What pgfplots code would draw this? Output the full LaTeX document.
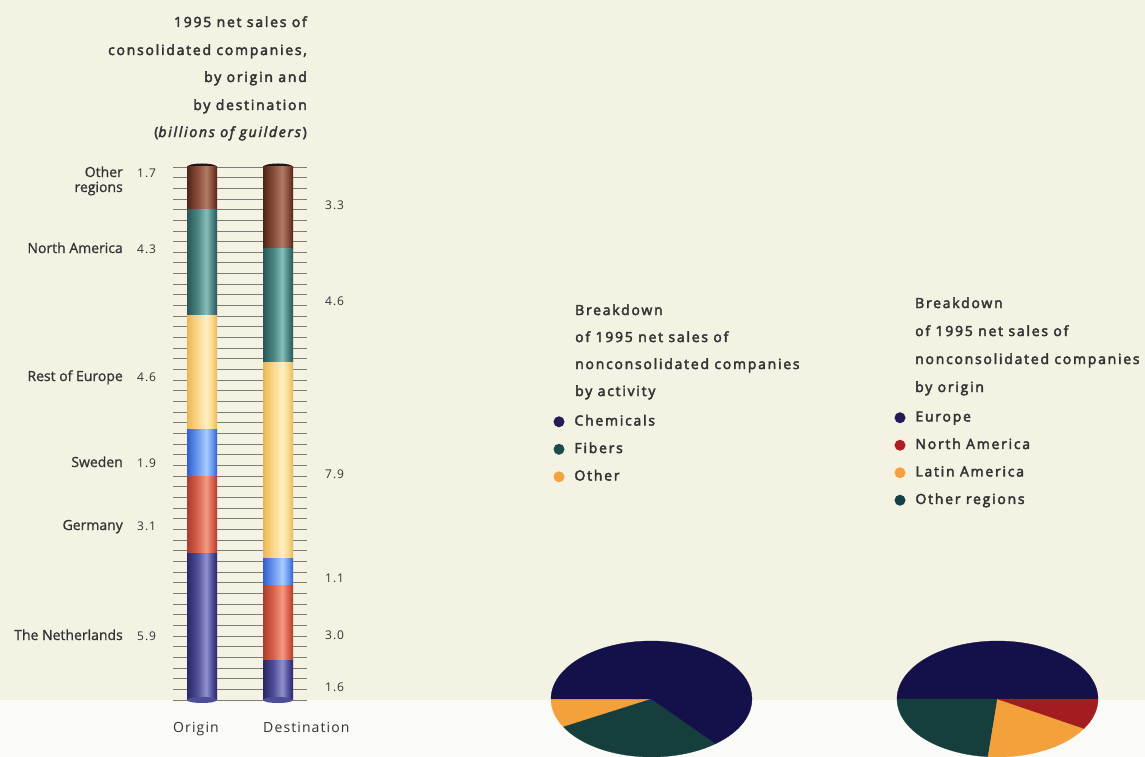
\documentclass[border=0pt]{standalone}
\usepackage{pgfplots}
\pgfplotsset{compat=1.18}
\usepackage{fontspec}
\setmainfont{Open Sans}
\newfontfamily\lab[FakeBold=1]{Open Sans}
\newfontfamily\trk[LetterSpace=8]{Open Sans}
\newfontfamily\trkb[LetterSpace=12.5,FakeBold=3]{Open Sans}

\definecolor{bgcream}{HTML}{F4F2E3}
\definecolor{bgwhite}{HTML}{FAFAF6}
\definecolor{txt}{HTML}{333333}
\definecolor{ladder}{HTML}{7E7C74}
% bar colours (dark edge / mid / highlight)
\definecolor{oD}{HTML}{4E241A}\definecolor{oM}{HTML}{8A4C3A}\definecolor{oL}{HTML}{B07A64}
\definecolor{aD}{HTML}{2A5656}\definecolor{aM}{HTML}{4A8482}\definecolor{aL}{HTML}{86BEBB}
\definecolor{eD}{HTML}{ECB656}\definecolor{eM}{HTML}{FAD889}\definecolor{eL}{HTML}{FFF0C4}
\definecolor{sD}{HTML}{3160CC}\definecolor{sM}{HTML}{6898F0}\definecolor{sL}{HTML}{A8CCFF}
\definecolor{gD}{HTML}{AC3C2C}\definecolor{gM}{HTML}{D9614C}\definecolor{gL}{HTML}{F29A82}
\definecolor{nD}{HTML}{292766}\definecolor{nM}{HTML}{4E4E98}\definecolor{nL}{HTML}{9090D0}
\definecolor{capc}{HTML}{1E1410}
% pie colours
\definecolor{pNavy}{HTML}{14114A}
\definecolor{pTeal}{HTML}{163E3D}
\definecolor{pOrange}{HTML}{F3A13A}
\definecolor{pRed}{HTML}{A31C20}
\definecolor{bNavy}{HTML}{261A58}
\definecolor{bTeal}{HTML}{1D4A4A}
\definecolor{bOrange}{HTML}{F5A142}
\definecolor{bRed}{HTML}{B01C24}
\definecolor{bTeal2}{HTML}{15404A}

\pgfdeclarehorizontalshading{cylO}{100bp}{color(0bp)=(oD); color(25bp)=(oD); color(42bp)=(oM); color(57bp)=(oL); color(67bp)=(oM); color(75bp)=(oD); color(100bp)=(oD)}
\pgfdeclarehorizontalshading{cylA}{100bp}{color(0bp)=(aD); color(25bp)=(aD); color(42bp)=(aM); color(57bp)=(aL); color(67bp)=(aM); color(75bp)=(aD); color(100bp)=(aD)}
\pgfdeclarehorizontalshading{cylE}{100bp}{color(0bp)=(eD); color(25bp)=(eD); color(42bp)=(eM); color(57bp)=(eL); color(67bp)=(eM); color(75bp)=(eD); color(100bp)=(eD)}
\pgfdeclarehorizontalshading{cylS}{100bp}{color(0bp)=(sD); color(25bp)=(sD); color(42bp)=(sM); color(57bp)=(sL); color(67bp)=(sM); color(75bp)=(sD); color(100bp)=(sD)}
\pgfdeclarehorizontalshading{cylG}{100bp}{color(0bp)=(gD); color(25bp)=(gD); color(42bp)=(gM); color(57bp)=(gL); color(67bp)=(gM); color(75bp)=(gD); color(100bp)=(gD)}
\pgfdeclarehorizontalshading{cylN}{100bp}{color(0bp)=(nD); color(25bp)=(nD); color(42bp)=(nM); color(57bp)=(nL); color(67bp)=(nM); color(75bp)=(nD); color(100bp)=(nD)}

% pie slice: #1 start angle, #2 cumulative % before, #3 value %, #4 colour
\newcommand{\slice}[4]{%
  \filldraw[#4, line width=0.3pt] (axis cs:0,0) -- (axis cs:{cos(#1+3.6*#2)},{sin(#1+3.6*#2)})
    arc[start angle={#1+3.6*#2}, end angle={#1+3.6*(#2+#3)}, x radius=100.5pt, y radius=58pt] -- cycle;}

\pgfplotsset{
  ladderaxis/.style={
    scale only axis, width=67pt, height=533pt,
    ymin=0, ymax=21.5, ybar stacked, bar width=30pt,
    ytick={0,0.43,...,21.6}, yticklabels={}, xtick=\empty,
    ymajorgrids, grid style={ladder, line width=0.9pt},
    axis line style={draw=none}, major tick length=0pt, clip=false},
  pieaxis/.style={
    scale only axis, width=201pt, height=116pt,
    xmin=-1, xmax=1, ymin=-1, ymax=1, hide axis, clip=false,
    legend cell align=left,
    legend image code/.code={\fill[##1, draw=none] (5.5pt,0pt) circle[radius=5.5pt];
      \path[draw=none, fill=none] (0pt,-0.1pt) rectangle (21pt,0.1pt);}},
  pielegend/.style={draw=none, fill=none, inner sep=0pt, outer sep=0pt, row sep=14pt,
    font={\trkb\fontsize{14}{16}\selectfont}, text=txt,
    nodes={inner sep=0pt, text height=10.5pt, text depth=3pt}}
}

\begin{document}
\begin{tikzpicture}
% ---------- background, texts ----------
\begin{axis}[at={(0pt,0pt)}, anchor=south west, scale only axis, width=1145pt, height=757pt,
  xmin=0, xmax=1145, ymin=0, ymax=757, y dir=reverse, hide axis, clip=false]
\fill[bgcream] (axis cs:0,0) rectangle (axis cs:1145,700);
\fill[bgwhite] (axis cs:0,700) rectangle (axis cs:1145,757);
% title
\begin{scope}[every node/.style={anchor=base east, text=txt, font={\trkb\fontsize{14}{16}\selectfont}, inner sep=0pt}]
\node at (axis cs:307,27) {1995 net sales of};
\node at (axis cs:307,55) {consolidated companies,};
\node at (axis cs:307,82) {by origin and};
\node at (axis cs:307,110) {by destination};
\node at (axis cs:307,137) {(\textit{billions of guilders})};
\end{scope}
% category labels
\begin{scope}[every node/.style={anchor=base east, text=txt, font={\lab\fontsize{14}{16}\selectfont}, inner sep=0pt}]
\node at (axis cs:123,177) {Other};
\node at (axis cs:123,192) {regions};
\node at (axis cs:123,253) {North America};
\node at (axis cs:123,381) {Rest of Europe};
\node at (axis cs:123,467) {Sweden};
\node at (axis cs:123,530) {Germany};
\node at (axis cs:123,640) {The Netherlands};
\end{scope}
% values
\begin{scope}[every node/.style={anchor=base west, text=txt, font={\trk\fontsize{12}{14}\selectfont}, inner sep=0pt}]
\node at (axis cs:137,177) {1.7};
\node at (axis cs:137,253) {4.3};
\node at (axis cs:137,381) {4.6};
\node at (axis cs:137,467) {1.9};
\node at (axis cs:137,530) {3.1};
\node at (axis cs:137,640) {5.9};
\node at (axis cs:325,209) {3.3};
\node at (axis cs:325,305) {4.6};
\node at (axis cs:325,478) {7.9};
\node at (axis cs:325,582) {1.1};
\node at (axis cs:325,639) {3.0};
\node at (axis cs:325,691) {1.6};
\end{scope}
\begin{scope}[every node/.style={anchor=base west, text=txt, font={\trk\fontsize{14}{16}\selectfont}, inner sep=0pt}]
\node at (axis cs:173,732) {Origin};
\node at (axis cs:263,732) {Destination};
\end{scope}
% pie titles
\begin{scope}[every node/.style={anchor=base west, text=txt, font={\trkb\fontsize{14}{16}\selectfont}, inner sep=0pt}]
\node at (axis cs:575,315) {Breakdown};
\node at (axis cs:575,342) {of 1995 net sales of};
\node at (axis cs:575,369) {nonconsolidated companies};
\node at (axis cs:575,396) {by activity};
\node at (axis cs:915,308) {Breakdown};
\node at (axis cs:915,336) {of 1995 net sales of};
\node at (axis cs:915,364) {nonconsolidated companies};
\node at (axis cs:915,392) {by origin};
\end{scope}
\end{axis}

% ---------- Origin column ----------
\begin{axis}[ladderaxis, at={(173pt,57pt)}, anchor=south west, xmin=173, xmax=240]
\fill[nM] (axis cs:202,0) ellipse[x radius=15pt, y radius=3pt];
\addplot[draw=none, shade, shading=cylN] coordinates {(202,5.9)};
\addplot[draw=none, shade, shading=cylG] coordinates {(202,3.1)};
\addplot[draw=none, shade, shading=cylS] coordinates {(202,1.9)};
\addplot[draw=none, shade, shading=cylE] coordinates {(202,4.6)};
\addplot[draw=none, shade, shading=cylA] coordinates {(202,4.3)};
\addplot[draw=none, shade, shading=cylO] coordinates {(202,1.7)};
\fill[capc] (axis cs:202,21.5) ellipse[x radius=15pt, y radius=3.5pt];
\end{axis}

% ---------- Destination column ----------
\begin{axis}[ladderaxis, at={(240pt,57pt)}, anchor=south west, xmin=240, xmax=307]
\fill[nM] (axis cs:278,0) ellipse[x radius=15pt, y radius=3pt];
\addplot[draw=none, shade, shading=cylN] coordinates {(278,1.6)};
\addplot[draw=none, shade, shading=cylG] coordinates {(278,3.0)};
\addplot[draw=none, shade, shading=cylS] coordinates {(278,1.1)};
\addplot[draw=none, shade, shading=cylE] coordinates {(278,7.9)};
\addplot[draw=none, shade, shading=cylA] coordinates {(278,4.6)};
\addplot[draw=none, shade, shading=cylO] coordinates {(278,3.3)};
\fill[capc] (axis cs:278,21.5) ellipse[x radius=15pt, y radius=3.5pt];
\end{axis}

% ---------- Pie 1: by activity ----------
\begin{axis}[pieaxis, at={(551pt,0pt)}, anchor=south west,
  legend style={pielegend, at={(axis description cs:0.0124,2.948)}, anchor=north west}]
\addlegendimage{bNavy}\addlegendentry{Chemicals}
\addlegendimage{bTeal}\addlegendentry{Fibers}
\addlegendimage{bOrange}\addlegendentry{Other}
\slice{180}{0}{8}{pOrange}
\slice{180}{8}{28}{pTeal}
\slice{180}{36}{64}{pNavy}
\end{axis}

% ---------- Pie 2: by origin ----------
\begin{axis}[pieaxis, at={(897pt,0pt)}, anchor=south west,
  legend style={pielegend, at={(axis description cs:-0.0124,2.983)}, anchor=north west}]
\addlegendimage{bNavy}\addlegendentry{Europe}
\addlegendimage{bRed}\addlegendentry{North America}
\addlegendimage{bOrange}\addlegendentry{Latin America}
\addlegendimage{bTeal2}\addlegendentry{Other regions}
\slice{0}{0}{50}{pNavy}
\slice{0}{50}{23.5}{pTeal}
\slice{0}{73.5}{18}{pOrange}
\slice{0}{91.5}{8.5}{pRed}
\end{axis}

\pgfresetboundingbox
\path[use as bounding box] (0pt,0pt) rectangle (1145pt,757pt);
\end{tikzpicture}
\end{document}
